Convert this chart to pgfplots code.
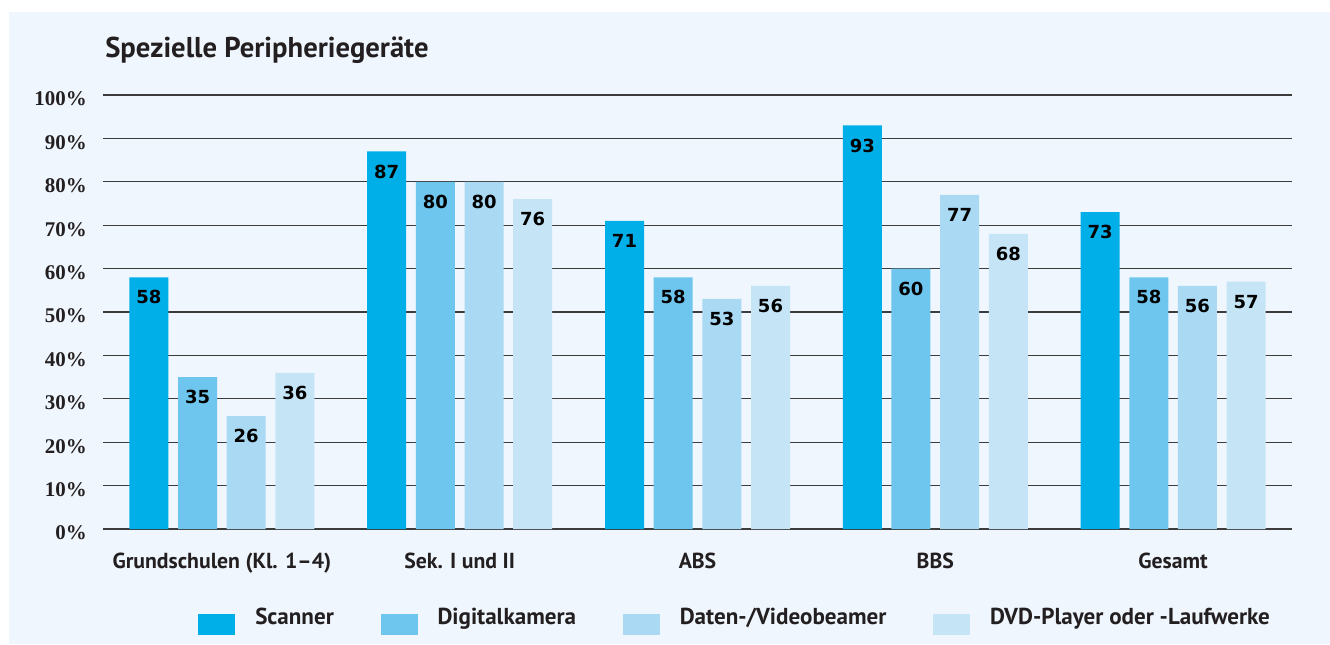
\documentclass[border=0pt]{standalone}
\usepackage{fontspec}
\usepackage{pgfplots}
\pgfplotsset{compat=1.18}
\setmainfont{PT Sans}
\newfontfamily\yfont{Liberation Serif}
\newfontfamily\valfont{DejaVu Sans}
\definecolor{bg}{HTML}{EFF6FD}
\definecolor{txt}{HTML}{231F20}
\definecolor{cA}{HTML}{00AEE8}
\definecolor{cB}{HTML}{6EC6EE}
\definecolor{cC}{HTML}{A9D9F3}
\definecolor{cD}{HTML}{C5E5F7}
\definecolor{gridc}{HTML}{3C3C3C}
\begin{document}
\begin{tikzpicture}
\useasboundingbox (0pt,0pt) rectangle (997.5pt,483pt);
\fill[white] (0pt,0pt) rectangle (997.5pt,483pt);
\fill[bg] (6.75pt,0pt) rectangle (997.5pt,474pt);
\node[anchor=base west, inner sep=0, font=\fontsize{21.5}{24}\selectfont\bfseries, text=txt] at (78.75pt,439.5pt) {Spezielle Peripheriegeräte};
\begin{axis}[
  at={(77.25pt,86.25pt)}, anchor=south west,
  scale only axis, width=891.75pt, height=325.5pt,
  xmin=-0.5, xmax=4.5, ymin=0, ymax=100,
  clip=false,
  axis line style={draw=none},
  major tick length=0pt,
  xtick style={draw=none}, ytick style={draw=none},
  ytick={0,10,...,100},
  xtick={0,1,2,3,4},
  xticklabels={Grundschulen (Kl. 1–4), Sek. I und II, ABS, BBS, Gesamt},
  xmajorgrids=false,
  ymajorgrids=true,
  major grid style={gridc, line width=1pt},
  /pgf/number format/assume math mode=true,
  yticklabel={\pgfmathprintnumber{\tick}\%},
  yticklabel style={font=\yfont\fontsize{15.7}{18}\selectfont\bfseries, text=txt, anchor=east, inner sep=0pt, xshift=-12pt, yshift=-3pt},
  xticklabel style={font=\fontsize{16.3}{19}\selectfont\bfseries, text=txt, anchor=base, inner sep=0pt, yshift=-29.25pt},
  ybar, bar width=0.164,
  every axis plot/.append style={draw=none},
  nodes near coords,
  nodes near coords style={font=\valfont\fontsize{13.5}{15}\selectfont\bfseries, text=black, anchor=north, inner sep=0pt, yshift=-9.75pt},
  legend columns=4,
  legend style={at={(0.0799,-0.2128)}, anchor=west, draw=none, fill=none, inner sep=0pt,
    font=\fontsize{17.3}{20}\selectfont\bfseries, text=txt,
    nodes={inner sep=0pt, anchor=base west},
    /tikz/every even column/.append style={column sep=35pt}},
  legend image code/.code={\fill[#1] (0pt,-7.875pt) rectangle (27.75pt,7.875pt); \path (42.75pt,0pt);},
]
\addplot[fill=cA, bar shift=-0.307] coordinates {(0,58) (1,87) (2,71) (3,93) (4,73)};
\addplot[fill=cB, bar shift=-0.1023] coordinates {(0,35) (1,80) (2,58) (3,60) (4,58)};
\addplot[fill=cC, bar shift=0.1023] coordinates {(0,26) (1,80) (2,53) (3,77) (4,56)};
\addplot[fill=cD, bar shift=0.307] coordinates {(0,36) (1,76) (2,56) (3,68) (4,57)};
\legend{Scanner, Digitalkamera, Daten-/Videobeamer, DVD-Player oder -Laufwerke}
\end{axis}
\end{tikzpicture}
\end{document}
